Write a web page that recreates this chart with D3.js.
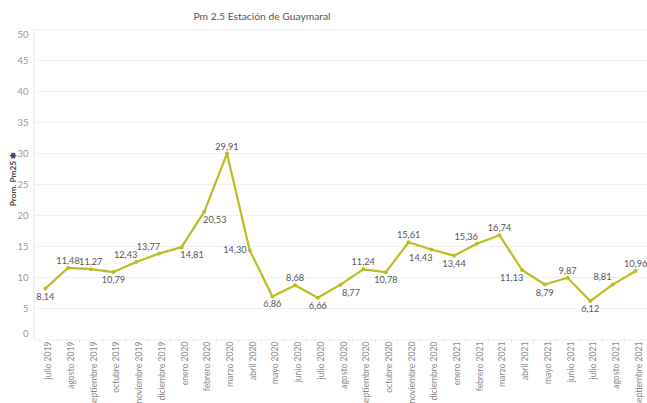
<!DOCTYPE html>
<html>
<head>
<meta charset="utf-8">
<script src="https://cdn.jsdelivr.net/npm/d3@7"></script>
<style>
	body { margin: 0; background: #ffffff; }
	svg text { font-family: Lato, "Open Sans", sans-serif; }
</style>
</head>
<body>
<svg id="chart"></svg>
<script>
const meses   = [ "julio 2019", "agosto 2019", "septiembre 2019", "octubre 2019", "noviembre 2019", "diciembre 2019",
					"enero 2020", "febrero 2020", "marzo 2020", "abril 2020", "mayo 2020", "junio 2020", "julio 2020",
					"agosto 2020", "septiembre 2020", "octubre 2020", "noviembre 2020", "diciembre 2020",
					"enero 2021", "febrero 2021", "marzo 2021", "abril 2021", "mayo 2021", "junio 2021", "julio 2021",
					"agosto 2021", "septiembre 2021" ] ;
const promPm25 = [ 8.14, 11.48, 11.27, 10.79, 12.43, 13.77,
					14.81, 20.53, 29.91, 14.30, 6.86, 8.68, 6.66,
					8.77, 11.24, 10.78, 15.61, 14.43,
					13.44, 15.36, 16.74, 11.13, 8.79, 9.87, 6.12,
					8.81, 10.96 ] ;
const yTicks  = [ 0, 5, 10, 15, 20, 25, 30, 35, 40, 45, 50 ] ;

const W = 647, H = 403 ;
const plotL = 34, plotR = 647, plotT = 29, plotB = 339 ;
const lineColor = "#bcbd22" ;

const svg = d3.select("#chart").attr("width", W).attr("height", H) ;

const x = d3.scaleBand().domain(meses).range([plotL, plotR]) ;
const y = d3.scaleLinear().domain([0, 50]).range([plotB, plotT]) ;
const cx = (d)=>{ return x(d) + x.bandwidth() / 2 ; } ;

// title
svg.append("text")
	.attr("x", 262).attr("y", 20)
	.attr("text-anchor", "middle")
	.attr("fill", "#555555")
	.style("font-size", "10.3px")
	.text("Pm 2.5 Estación de Guaymaral") ;

// gridlines
svg.append("g")
	.selectAll("line")
	.data(yTicks.filter((t)=>{ return t > 0; }))
	.enter()
		.append("line")
			.attr("x1", plotL).attr("x2", plotR)
			.attr("y1", (d)=>{ return y(d) + 0.5; })
			.attr("y2", (d)=>{ return y(d) + 0.5; })
			.attr("stroke", "#f0f0f0") ;

// y axis
const yAxis = svg.append("g")
	.attr("transform", "translate(" + (plotL - 0.5) + ",0)")
	.call(d3.axisLeft(y).tickValues(yTicks).tickSize(0).tickPadding(5)) ;
yAxis.select(".domain").attr("stroke", "#e4e4e4") ;
yAxis.selectAll("text")
	.attr("fill", "#9a9a9a")
	.style("font-size", "9.5px")
	.attr("y", (d)=>{ return Math.min(Math.max(y(d), 34), 333) - y(d); }) ;

// y title
svg.append("text")
	.attr("transform", "translate(16,179) rotate(-90)")
	.attr("text-anchor", "middle")
	.attr("fill", "#444444")
	.style("font-size", "8.3px")
	.style("font-weight", "bold")
	.text("Prom. Pm25 ✱") ;

// x axis
const xAxis = svg.append("g")
	.attr("transform", "translate(0," + (plotB + 0.5) + ")")
	.call(d3.axisBottom(x).tickSize(0).tickPadding(0)) ;
xAxis.select(".domain").attr("stroke", "#eeeeee") ;
xAxis.selectAll("text")
	.attr("fill", "#8a8a8a")
	.style("font-size", "8.6px")
	.attr("text-anchor", "end")
	.attr("transform", "rotate(-90)")
	.attr("x", -2).attr("y", 3).attr("dy", "0.35em") ;

// small separators between months
svg.append("g")
	.selectAll("line")
	.data(meses.slice(1))
	.enter()
		.append("line")
			.attr("x1", (d)=>{ return Math.round(x(d)) + 0.5; })
			.attr("x2", (d)=>{ return Math.round(x(d)) + 0.5; })
			.attr("y1", plotB).attr("y2", plotB + 4)
			.attr("stroke", "#e8e8e8") ;

// line
const pts = meses.map((m, i)=>{ return { mes: m, val: promPm25[i], i: i }; }) ;
svg.append("path")
	.datum(pts)
	.attr("fill", "none")
	.attr("stroke", lineColor)
	.attr("stroke-width", 2.2)
	.attr("stroke-linejoin", "round")
	.attr("d", d3.line().x((d)=>{ return cx(d.mes); }).y((d)=>{ return y(d.val); })) ;

svg.append("g")
	.selectAll("circle")
	.data(pts)
	.enter()
		.append("circle")
			.attr("cx", (d)=>{ return cx(d.mes); })
			.attr("cy", (d)=>{ return y(d.val); })
			.attr("r", 2)
			.attr("fill", lineColor) ;

// labels: above when the point is higher than its neighbours' average, below otherwise,
// nudged sideways away from the line on a steady slope
const fmt = (v)=>{ return v.toFixed(2).replace(".", ","); } ;
const place = (d)=>{
	const n = promPm25.length ;
	const prev = d.i > 0 ? promPm25[d.i - 1] : null ;
	const next = d.i < n - 1 ? promPm25[d.i + 1] : null ;
	let side = "below", shift = 0 ;
	if( d.i > 0 ){
		const nb = [prev, next].filter((v)=>{ return v !== null; }) ;
		side = d.val >= d3.mean(nb) ? "above" : "below" ;
	}
	if( prev !== null && next !== null ){
		const d1 = d.val - prev, d2 = next - d.val ;
		if( d1 * d2 > 0 && Math.min(Math.abs(d1), Math.abs(d2)) > 0.9 ){
			const dir = d2 > 0 ? 1 : -1 ;
			shift = side == "above" ? -dir : dir ;
			if( Math.abs(d1) > 5 && Math.abs(d2) > 5 && dir < 0 ){ side = "side"; }
		}
	}
	return { side: side, shift: shift } ;
} ;

svg.append("g")
	.selectAll("text")
	.data(pts)
	.enter()
		.append("text")
			.attr("fill", "#555555")
			.style("font-size", "9.2px")
			.attr("text-anchor", (d)=>{ return place(d).side == "side" ? "end" : "middle"; })
			.attr("x", (d)=>{
				const p = place(d) ;
				if( p.side == "side" ){ return cx(d.mes) - 3; }
				return cx(d.mes) + p.shift * 10.5 ;
			})
			.attr("y", (d)=>{
				const p = place(d) ;
				if( p.side == "above" ){ return y(d.val) - 4; }
				if( p.side == "side" ){ return y(d.val) + 3; }
				return y(d.val) + 11 ;
			})
			.text((d)=>{ return fmt(d.val); }) ;
</script>
</body>
</html>
